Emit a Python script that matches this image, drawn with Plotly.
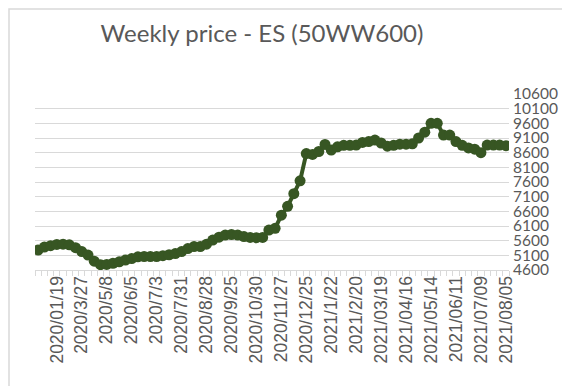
import plotly.graph_objects as go

# ---- data ----
tick_labels = ["2020/01/19", "2020/3/27", "2020/5/8", "2020/6/5", "2020/7/3",
               "2020/7/31", "2020/8/28", "2020/9/25", "2020/10/30", "2020/11/27",
               "2020/12/25", "2021/1/22", "2021/2/20", "2021/03/19", "2021/04/16",
               "2021/05/14", "2021/06/11", "2021/07/09", "2021/08/05"]
tick_index = list(range(3, 76, 4))  # category positions of the labels above

prices = [5280, 5380, 5430, 5470, 5480, 5460, 5360, 5230, 5110, 4900,
          4780, 4790, 4830, 4880, 4940, 4990, 5050, 5060, 5060, 5060,
          5090, 5120, 5160, 5230, 5330, 5400, 5400, 5480, 5620, 5720,
          5790, 5810, 5790, 5740, 5710, 5700, 5710, 5960, 6020, 6470,
          6770, 7200, 7640, 8570, 8540, 8640, 8880, 8690, 8800, 8850,
          8850, 8860, 8950, 8980, 9030, 8930, 8820, 8850, 8890, 8890,
          8900, 9100, 9300, 9600, 9600, 9200, 9200, 8980, 8850, 8760,
          8720, 8600, 8860, 8860, 8860, 8840]
week_index = list(range(len(prices)))

y_ticks = list(range(4600, 10601, 500))
y_labels = [str(v) for v in y_ticks]

# ---- layout constants ----
W, H = 570, 386
L, R, T, B = 27, 69, 86, 124
PW, PH = W - L - R, H - T - B
GRID = "#D9D9D9"
TXT = "#595959"
GREEN = "#375623"

fig = go.Figure()
fig.add_trace(go.Scatter(
    x=week_index, y=prices, mode="lines+markers",
    line=dict(color=GREEN, width=4),
    marker=dict(color=GREEN, size=11),
    hoverinfo="skip", showlegend=False,
))

def px_x(p):
    return (p - L) / PW

def px_y(p):
    return (H - B - p) / PH

fig.update_layout(
    width=W, height=H,
    margin=dict(l=L, r=R, t=T, b=B),
    paper_bgcolor="white", plot_bgcolor="white",
    title=dict(text="Weekly price - ES (50WW600)", x=px_x(254), xref="paper",
               xanchor="center", y=1 - 26 / H, yref="container", yanchor="middle",
               font=dict(family="Lato, Open Sans, sans-serif", size=24, color=TXT)),
    xaxis=dict(range=[-0.5, len(prices) - 0.5], tickmode="array",
               tickvals=tick_index, ticktext=tick_labels, tickangle=-90,
               ticks="", showgrid=False, zeroline=False,
               showline=True, linecolor=GRID, linewidth=1,
               ticklabelstandoff=-2,
               tickfont=dict(family="Liberation Sans, Arial, sans-serif", size=17.5, color=TXT),
               minor=dict(tickmode="linear", tick0=-0.5, dtick=1, ticks="outside",
                          ticklen=5, tickcolor=GRID, tickwidth=1, showgrid=False),
               fixedrange=True),
    yaxis=dict(range=[4600, 10600], side="right", tickmode="array", tickvals=y_ticks,
               ticktext=y_labels,
               ticks="", showgrid=True, gridcolor=GRID, gridwidth=1, zeroline=False,
               showline=False, ticklabelstandoff=3,
               tickfont=dict(family="Lato, Open Sans, sans-serif", size=15.5, color=TXT),
               fixedrange=True),
    shapes=[dict(type="rect", xref="paper", yref="paper",
                 x0=px_x(1), x1=px_x(567), y0=px_y(384.5), y1=px_y(1),
                 line=dict(color=GRID, width=1.5), fillcolor="rgba(0,0,0,0)", layer="below")],
)

fig.write_html("out.html", config={"displayModeBar": False})
